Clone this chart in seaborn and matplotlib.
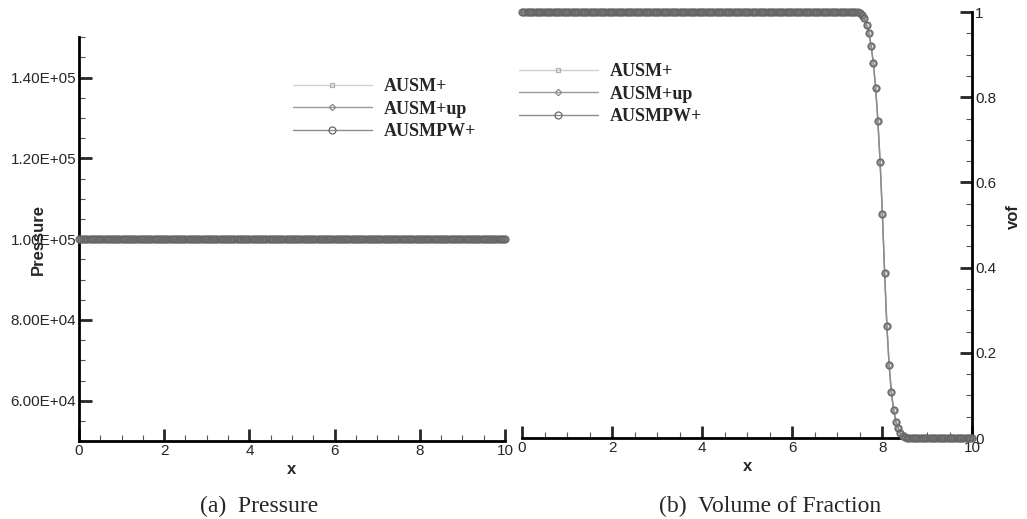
import numpy as np
import pandas as pd
import matplotlib
matplotlib.use("Agg")
import matplotlib.pyplot as plt
from matplotlib.ticker import MultipleLocator, FixedLocator
import seaborn as sns

# ---------------- data ----------------
schemes = ["AUSM+", "AUSM+up", "AUSMPW+"]
x_grid = np.linspace(0.0, 10.0, 201)          # cell centres, dx = 0.05
pressure_level = 1.0e5                        # uniform pressure
# vof profile: 1 before the interface, 0 after it
vof_front_x = [7.50, 7.55, 7.60, 7.65, 7.70, 7.75, 7.80, 7.85, 7.90, 7.95,
               8.00, 8.05, 8.10, 8.15, 8.20, 8.25, 8.30, 8.35, 8.40, 8.45, 8.50]
vof_front_v = [0.997, 0.993, 0.985, 0.969, 0.950, 0.921, 0.880, 0.822, 0.745, 0.647,
               0.527, 0.388, 0.263, 0.171, 0.107, 0.066, 0.038, 0.023, 0.011, 0.005, 0.002]
p_ticks = [6.0e4, 8.0e4, 1.0e5, 1.2e5, 1.4e5]
p_tick_labels = ["6.00E+04", "8.00E+04", "1.00E+05", "1.20E+05", "1.40E+05"]
vof_ticks = [0, 0.2, 0.4, 0.6, 0.8, 1]
vof_tick_labels = ["0", "0.2", "0.4", "0.6", "0.8", "1"]
x_ticks = [0, 2, 4, 6, 8, 10]

vof = []
for xv in x_grid:
    if xv < vof_front_x[0] - 1e-9:
        vof.append(1.0)
    elif xv > vof_front_x[-1] + 1e-9:
        vof.append(0.0)
    else:
        vof.append(vof_front_v[int(round((xv - vof_front_x[0]) / 0.05))])

rows = []
for s in schemes:
    for xv, vv in zip(x_grid, vof):
        rows.append({"scheme": s, "x": xv, "p": pressure_level, "vof": vv})
df = pd.DataFrame(rows)

# ---------------- style ----------------
sns.set_style("white")
plt.rcParams["font.family"] = ["Liberation Sans", "DejaVu Sans"]

styles = {
    "AUSM+":   dict(color="#d0d0d0", marker="s", markersize=3.2, mec="#b0b0b0", lw=1.0),
    "AUSM+up": dict(color="#9a9a9a", marker="D", markersize=3.2, mec="#8a8a8a", lw=1.0),
    "AUSMPW+": dict(color="#8c8c8c", marker="o", markersize=5.0, mec="#666666", lw=1.0),
}

fig = plt.figure(figsize=(10.27, 5.19), dpi=100)
axL = fig.add_axes([0.0769, 0.150, 0.4148, 0.7784])
axR = fig.add_axes([0.5083, 0.156, 0.4386, 0.8208])

for ax, col in [(axL, "p"), (axR, "vof")]:
    for s in schemes:
        st = styles[s]
        sub = df[df["scheme"] == s]
        sns.lineplot(data=sub, x="x", y=col, ax=ax, color=st["color"], lw=st["lw"],
                     marker=st["marker"], markersize=st["markersize"],
                     markerfacecolor="none", markeredgecolor=st["mec"],
                     markeredgewidth=0.9, label=s, clip_on=False, zorder=3)

tick_fs = 11
# left panel
axL.set_xlim(0, 10)
axL.set_ylim(5.0e4, 1.5e5)
axL.xaxis.set_major_locator(FixedLocator(x_ticks))
axL.xaxis.set_minor_locator(MultipleLocator(0.5))
axL.yaxis.set_major_locator(FixedLocator(p_ticks))
axL.set_yticklabels(p_tick_labels)
axL.yaxis.set_minor_locator(MultipleLocator(5000))
for sp in ["top", "right"]:
    axL.spines[sp].set_visible(False)
for sp in ["left", "bottom"]:
    axL.spines[sp].set_linewidth(2.0)
    axL.spines[sp].set_color("black")
axL.tick_params(which="major", direction="in", length=9, width=2.0, labelsize=tick_fs,
                left=True, bottom=True, pad=2)
axL.tick_params(which="minor", direction="in", length=4.5, width=0.8, color="#555555",
                left=True, bottom=True)
axL.set_xlabel("x", fontsize=12, fontweight="bold", labelpad=3)
axL.set_ylabel("Pressure", fontsize=12, fontweight="bold")
axL.yaxis.set_label_coords(-0.078, 0.50)

# right panel
axR.set_xlim(0, 10)
axR.set_ylim(0, 1)
axR.xaxis.set_major_locator(FixedLocator(x_ticks))
axR.xaxis.set_minor_locator(MultipleLocator(0.5))
axR.yaxis.set_major_locator(FixedLocator(vof_ticks))
axR.set_yticklabels(vof_tick_labels)
axR.yaxis.set_minor_locator(MultipleLocator(0.05))
axR.yaxis.tick_right()
axR.yaxis.set_label_position("right")
for sp in ["top", "left"]:
    axR.spines[sp].set_visible(False)
for sp in ["right", "bottom"]:
    axR.spines[sp].set_linewidth(2.0)
    axR.spines[sp].set_color("black")
axR.tick_params(which="major", direction="in", length=9, width=2.0, labelsize=tick_fs,
                right=True, left=False, bottom=True, pad=2)
axR.tick_params(which="minor", direction="in", length=4.5, width=0.8, color="#555555",
                right=True, left=False, bottom=True)
axR.set_xlabel("x", fontsize=12, fontweight="bold", labelpad=3)
axR.set_ylabel("vof", fontsize=12, fontweight="bold", labelpad=2)
axR.yaxis.set_label_coords(1.075, 0.52)

leg_font = dict(family="Liberation Serif", weight="bold", size=13)
for ax, anchor in [(axL, (0.285, 0.849)), (axR, (0.505, 0.878))]:
    leg = ax.legend(loc="upper left", bbox_to_anchor=anchor, bbox_transform=fig.transFigure,
                    frameon=False, prop=leg_font, handlelength=4.4, handletextpad=0.65,
                    labelspacing=0.3, borderpad=0, borderaxespad=0)

fig.text(0.252, 0.014, "(a)  Pressure", ha="center", va="baseline",
         family="Liberation Serif", fontsize=17)
fig.text(0.750, 0.014, "(b)  Volume of Fraction", ha="center", va="baseline",
         family="Liberation Serif", fontsize=17)

fig.savefig("out.png", dpi=100)
